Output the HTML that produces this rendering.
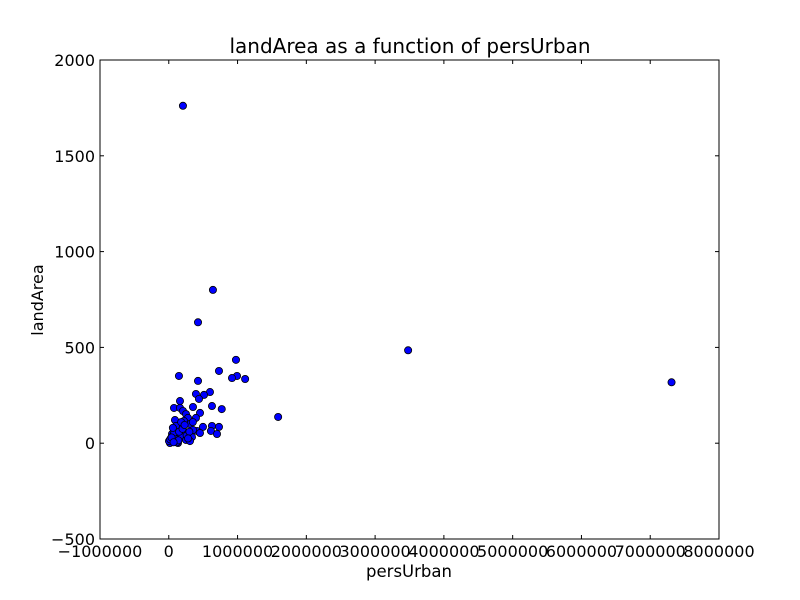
<!DOCTYPE html>
<html><head><meta charset="utf-8"><style>
body{margin:0;background:#fff}
svg{display:block;font-family:"DejaVu Sans","Liberation Sans",sans-serif}
</style></head><body>
<svg id="chart" width="800" height="600">
<rect width="800" height="600" fill="#fff"/>
<text x="410" y="53" font-size="20" text-anchor="middle">landArea as a function of persUrban</text>
<text x="409" y="577" font-size="16.5" text-anchor="middle">persUrban</text>
<text x="43" y="300" font-size="16" text-anchor="middle" transform="rotate(-90 43 300)">landArea</text>
<g id="ticks"></g>
<g id="points"></g>
<rect x="100" y="60" width="619" height="479" fill="none" stroke="#000" stroke-width="1"/>
</svg>
<script>
const persUrban=[206000,642000,425000,3480000,7310000,1590000,977000,992000,919000,1110000,730000,148000,425000,395000,599000,512000,439000,163000,76000,163000,352000,770000,628000,454000,206000,250000,90000,279000,497000,628000,730000,410000,613000,701000,308000,352000,235000,163000,105000,47000,17000,76000,178000,250000,337000,134000,3000,47000,105000,221000,395000,454000,308000,32000,90000,60000,20000,120000,80000,150000,200000,260000,300000,60000,110000,180000,40000,230000,280000,140000,70000,350000];
const landArea=[1761,800,631,485,318,137,435,351,340,335,377,351,325,257,267,252,231,220,184,184,189,178,194,158,168,152,121,132,85,90,85,64,64,48,100,69,53,85,32,11,1,69,32,17,32,1,11,48,90,116,132,53,11,27,11,40,20,5,55,60,75,40,60,80,20,110,30,95,25,15,5,110];
const xTicks=[-1000000,0,1000000,2000000,3000000,4000000,5000000,6000000,7000000,8000000];
const yTicks=[-500,0,500,1000,1500,2000];
const NS="http://www.w3.org/2000/svg";
const X0=100,X1=719,Y0=539,Y1=60;
const sx=v=>X0+(v+1000000)/9000000*(X1-X0);
const sy=v=>Y0-(v+500)/2500*(Y0-Y1);
const tg=document.getElementById('ticks');
function mk(tag,attrs,parent){const e=document.createElementNS(NS,tag);for(const k in attrs)e.setAttribute(k,attrs[k]);parent.appendChild(e);return e;}
xTicks.forEach(t=>{const x=sx(t);
 mk('line',{x1:x,x2:x,y1:Y0,y2:Y0-4,stroke:'#000'},tg);
 mk('line',{x1:x,x2:x,y1:Y1,y2:Y1+4,stroke:'#000'},tg);
 const l=mk('text',{x:x,y:557,'font-size':16,'text-anchor':'middle'},tg);l.textContent=t<0?'\u2212'+(-t):t;
 
 
});
yTicks.forEach(t=>{const y=sy(t);
 mk('line',{x1:X0,x2:X0+4,y1:y,y2:y,stroke:'#000'},tg);
 mk('line',{x1:X1,x2:X1-4,y1:y,y2:y,stroke:'#000'},tg);
 const l=mk('text',{x:95,y:y+6,'font-size':16,'text-anchor':'end'},tg);l.textContent=t<0?'\u2212'+(-t):t;
 
 
});
const pg=document.getElementById('points');
persUrban.forEach((v,i)=>{
 const c=mk('circle',{cx:sx(v),cy:sy(landArea[i]),r:3.6,fill:'#0000ff',stroke:'#000','stroke-width':0.8},pg);
 
 
});
</script>
</body></html>
